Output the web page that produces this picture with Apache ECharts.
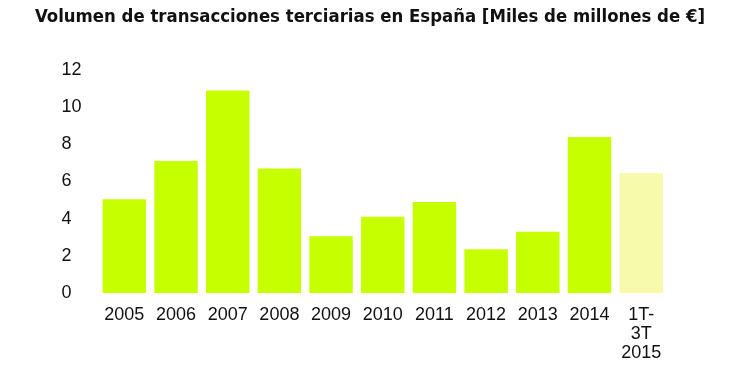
<!DOCTYPE html>
<html>
<head>
<meta charset="utf-8">
<script src="https://cdn.jsdelivr.net/npm/echarts@6/dist/echarts.min.js"></script>
<style>
html,body{margin:0;padding:0;background:#fff;}
#chart{width:740px;height:389px;}
</style>
</head>
<body>
<div id="chart"></div>
<script>
var titleText = 'Volumen de transacciones terciarias en España [Miles de millones de €]';
var categories = ['2005','2006','2007','2008','2009','2010','2011','2012','2013','2014','1T-\n3T\n2015'];
var volumes = [5.05, 7.1, 10.9, 6.7, 3.05, 4.1, 4.9, 2.35, 3.3, 8.4, 6.45];
var yTicks = [0, 2, 4, 6, 8, 10, 12];

var chart = echarts.init(document.getElementById('chart'));
chart.setOption({
  animation: false,
  backgroundColor: '#ffffff',
  title: {
    text: titleText,
    left: 'center',
    top: 3,
    textStyle: {
      fontFamily: '"Liberation Sans Narrow", "DejaVu Sans Condensed", sans-serif',
      fontWeight: 'bold',
      fontSize: 18.4,
      color: '#111'
    }
  },
  grid: { left: 98.5, right: 73, top: 70, bottom: 96 },
  xAxis: {
    type: 'category',
    data: categories,
    axisLine: { show: false },
    axisTick: { show: false },
    axisLabel: {
      interval: 0,
      margin: 13,
      fontFamily: '"Liberation Sans", Arial, sans-serif',
      fontSize: 18,
      lineHeight: 19,
      color: '#111'
    }
  },
  yAxis: {
    type: 'value',
    min: yTicks[0],
    max: yTicks[yTicks.length - 1],
    interval: yTicks[1] - yTicks[0],
    axisLine: { show: false },
    axisTick: { show: false },
    splitLine: { show: false },
    axisLabel: {
      align: 'left',
      margin: 37,
      fontFamily: '"Liberation Sans", Arial, sans-serif',
      fontSize: 18,
      color: '#111'
    }
  },
  series: [{
    type: 'bar',
    data: volumes,
    barCategoryGap: '16%',
    itemStyle: {
      color: function (p) {
        return categories[p.dataIndex].indexOf('1T') === 0 ? '#f7f9ab' : '#c5ff00';
      }
    }
  }]
});
</script>
</body>
</html>
